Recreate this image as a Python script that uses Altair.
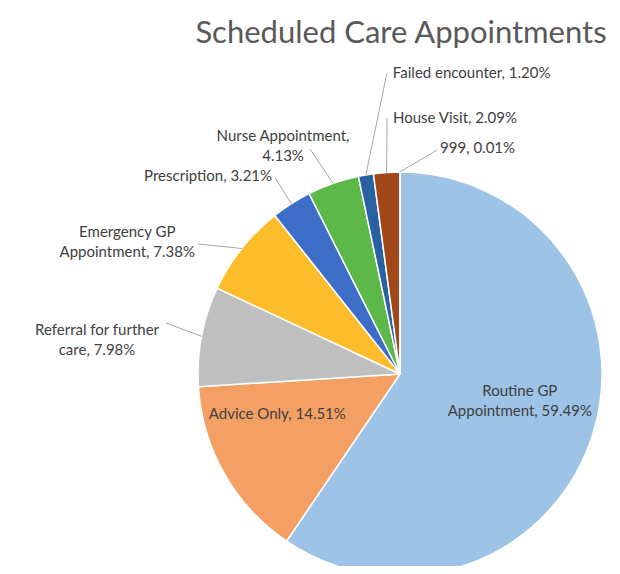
import math
import pandas as pd
import altair as alt

# ---- data ----
categories = ["Routine GP Appointment", "Advice Only", "Referral for further care",
              "Emergency GP Appointment", "Prescription", "Nurse Appointment",
              "Failed encounter", "House Visit", "999"]
values = [59.49, 14.51, 7.98, 7.38, 3.21, 4.13, 1.20, 2.09, 0.01]
label_texts = ["Routine GP\nAppointment, 59.49%", "Advice Only, 14.51%",
               "Referral for further\ncare, 7.98%", "Emergency GP\nAppointment, 7.38%",
               "Prescription, 3.21%", "Nurse Appointment,\n4.13%",
               "Failed encounter, 1.20%", "House Visit, 2.09%", "999, 0.01%"]
colors = ["#9DC3E6", "#F4A064", "#BFBFBF", "#FDBD2A", "#3C6EC8",
          "#5CB848", "#2862A0", "#A0481A", "#C9C9C9"]
title_text = "Scheduled Care Appointments"

# ---- layout (style, not data) ----
CX, CY, R = 392, 366, 202
# (inside?, label angle deg, label radius, text dx, text dy, align)
layout = [
    (True, 98, 121, 0, 0, "center"),
    (True, 252, 129, 0, 0, "center"),
    (False, 282.3, 239.5, -69, 7, "center"),
    (False, 302.8, 240, -71, -12, "center"),
    (False, 327.5, 232.5, -3, -2, "right"),
    (False, 338.2, 242.3, -27, -13, "center"),
    (False, 357.5, 301, 6, 0, "left"),
    (False, 357.1, 256.3, 6, 0, "left"),
    (False, 9.4, 227, 3, -2, "left"),
]

df = pd.DataFrame({"category": categories, "value": values, "idx": range(len(values))})
total = sum(values)
cum = df["value"].cumsum() - df["value"]
df["mid"] = (cum + df["value"] / 2) / total * 360.0


def polar(ang, r):
    a = math.radians(ang)
    return CX + r * math.sin(a), CY - r * math.cos(a)


lab_rows, line_rows = [], []
for i, (inside, ang, r, dx, dy, align) in enumerate(layout):
    ex, ey = polar(ang, r)
    lab_rows.append({"text": label_texts[i], "x": ex + dx, "y": ey + dy, "align": align})
    if not inside:
        sx, sy = polar(df["mid"][i], R)
        line_rows.append({"x": sx, "y": sy, "x2": ex, "y2": ey})

labs = pd.DataFrame(lab_rows)
lines = pd.DataFrame(line_rows)

pie = alt.Chart(df).mark_arc(radius=R, stroke="white", strokeWidth=1.5).encode(
    theta=alt.Theta("value:Q", stack=True),
    color=alt.Color("category:N", scale=alt.Scale(domain=categories, range=colors), legend=None),
    order=alt.Order("idx:Q"),
    x=alt.value(CX), y=alt.value(CY),
)

leaders = alt.Chart(lines).mark_rule(color="#A6A6A6", strokeWidth=1).encode(
    x=alt.X("x:Q", scale=None), y=alt.Y("y:Q", scale=None),
    x2="x2:Q", y2="y2:Q",
)

layers = [pie, leaders]
for al in ["left", "center", "right"]:
    sub = labs[labs["align"] == al]
    if len(sub) == 0:
        continue
    layers.append(
        alt.Chart(sub).mark_text(font="Lato", fontSize=15, color="#404040", align=al,
                                 baseline="middle", lineBreak="\n", lineHeight=20).encode(
            x=alt.X("x:Q", scale=None), y=alt.Y("y:Q", scale=None), text="text:N")
    )

title = alt.Chart(pd.DataFrame({"t": [title_text]})).mark_text(
    font="Lato", fontSize=31, color="#595959", align="center", baseline="alphabetic"
).encode(x=alt.value(393), y=alt.value(35), text="t:N")
layers.append(title)

chart = alt.layer(*layers).properties(
    width=604, height=558, autosize=alt.AutoSizeParams(type="none"), padding=0,
    background="white"
).configure_view(strokeWidth=0)

chart.save("out.html", embed_options={"renderer": "svg", "actions": False})
